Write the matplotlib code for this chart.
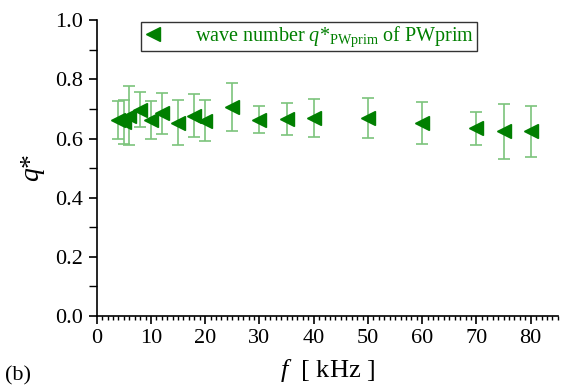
import matplotlib
matplotlib.use('Agg')
import matplotlib.pyplot as plt
from matplotlib.ticker import MultipleLocator

# datos
freq_khz = [4, 5, 6, 8, 10, 12, 15, 18, 20, 25, 30, 35, 40, 50, 60, 70, 75, 80]
q_star = [0.662, 0.655, 0.677, 0.698, 0.663, 0.685, 0.654, 0.677, 0.660, 0.707,
          0.663, 0.666, 0.669, 0.669, 0.654, 0.634, 0.624, 0.624]
q_err = [0.065, 0.075, 0.100, 0.058, 0.065, 0.070, 0.075, 0.073, 0.070, 0.080,
         0.046, 0.053, 0.063, 0.067, 0.071, 0.055, 0.093, 0.085]
legend_label = r'wave number $q$*$_{\mathrm{PWprim}}$ of PWprim'

plt.rcParams['font.family'] = 'Liberation Serif'
plt.rcParams['mathtext.fontset'] = 'custom'
plt.rcParams['mathtext.rm'] = 'Liberation Serif'
plt.rcParams['mathtext.it'] = 'Liberation Serif:italic'

fig = plt.figure(figsize=(5.71, 3.88), dpi=100)
ax = fig.add_axes([0.1693, 0.1856, 0.8077, 0.7624])

green = '#007f00'
ax.errorbar(freq_khz, q_star, yerr=q_err, fmt='none', ecolor='#7cc47c',
            elinewidth=1.2, capsize=4, capthick=1.2)
ax.plot(freq_khz, q_star, linestyle='none', marker='<', markersize=10,
        color=green, label=legend_label)

ax.set_xlim(0, 85)
ax.set_ylim(0, 1.0)
ax.xaxis.set_major_locator(MultipleLocator(10))
ax.xaxis.set_minor_locator(MultipleLocator(1))
ax.yaxis.set_major_locator(MultipleLocator(0.2))
ax.yaxis.set_minor_locator(MultipleLocator(0.1))
ax.yaxis.set_major_formatter(plt.FormatStrFormatter('%.1f'))

ax.spines['top'].set_visible(False)
ax.spines['right'].set_visible(False)
for s in ['left', 'bottom']:
    ax.spines[s].set_linewidth(1.2)
ax.tick_params(which='major', direction='out', length=6, width=1.2, labelsize=16)
ax.tick_params(which='minor', direction='out', length=3, width=1.0)
ax.tick_params(axis='y', which='minor', length=6)

ax.set_xlabel(r'$f$  [ kHz ]', fontsize=19, labelpad=6)
ax.set_ylabel(r'$q$*', fontsize=20, labelpad=6)

leg = ax.legend(loc='center', bbox_to_anchor=(0.46, 0.944), fontsize=14.5,
                frameon=True, fancybox=False, edgecolor='black',
                handlelength=1.0, handletextpad=1.6, borderpad=0.12,
                borderaxespad=0)
leg.get_frame().set_linewidth(1.0)
for t in leg.get_texts():
    t.set_color(green)

fig.text(0.008, 0.02, '(b)', fontsize=16)

plt.savefig('out.png', dpi=100)
